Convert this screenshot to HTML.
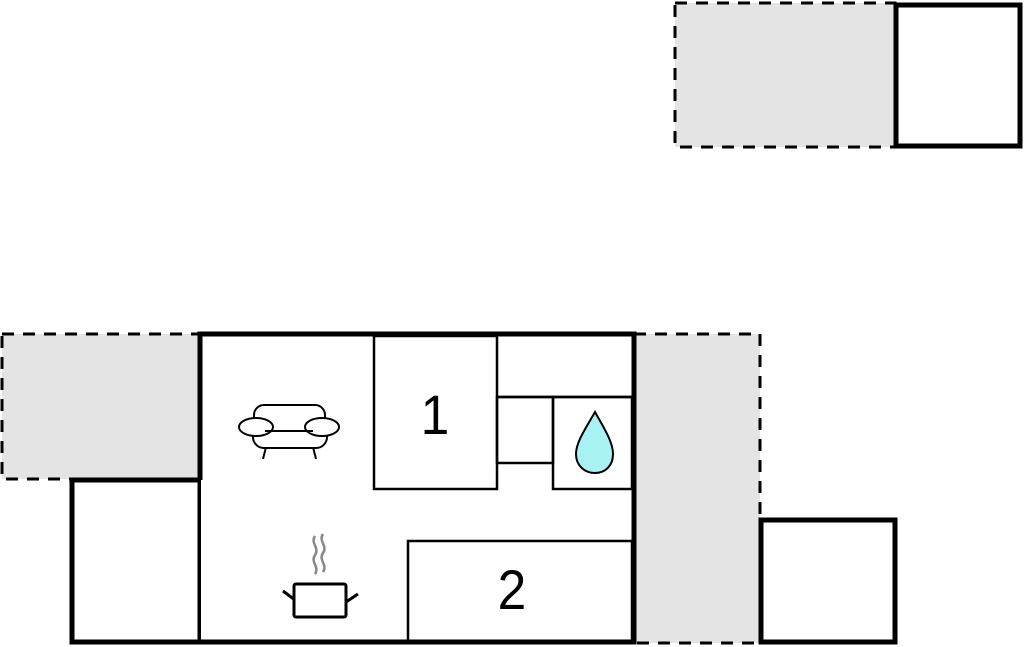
<!DOCTYPE html>
<html><head><style>html,body{margin:0;padding:0;background:#fff;width:1024px;height:647px;overflow:hidden}</style></head>
<body>
<svg width="1024" height="647" viewBox="0 0 1024 647" xmlns="http://www.w3.org/2000/svg">
<rect x="675" y="3" width="220" height="144" fill="#e4e4e4" stroke="#000" stroke-width="3" stroke-dasharray="12,9"/>
<rect x="896" y="5" width="124" height="141" fill="#fff" stroke="#000" stroke-width="5"/>
<rect x="2" y="334" width="198" height="145" fill="#e4e4e4" stroke="#000" stroke-width="3" stroke-dasharray="12,9"/>
<rect x="634" y="334" width="126" height="309" fill="#e4e4e4" stroke="#000" stroke-width="3" stroke-dasharray="12,9"/>
<rect x="72" y="480" width="128" height="162" fill="#fff" stroke="#000" stroke-width="5"/>
<rect x="200" y="334" width="434" height="308" fill="#fff" stroke="none"/>
<polyline points="200,480 200,334 634,334 634,642 200,642" fill="none" stroke="#000" stroke-width="5"/>
<line x1="200" y1="480" x2="200" y2="642" stroke="#000" stroke-width="2"/>
<rect x="761" y="520" width="134" height="122" fill="#fff" stroke="#000" stroke-width="5"/>
<g fill="none" stroke="#000" stroke-width="2.5">
<rect x="374" y="336" width="123" height="153"/>
<line x1="497" y1="397" x2="632" y2="397"/>
<rect x="497" y="397" width="56" height="66"/>
<rect x="553" y="397" width="79" height="92"/>
<rect x="408" y="541" width="224" height="101"/>
</g>
<text x="435" y="434" font-family="Liberation Sans, sans-serif" font-size="56" text-anchor="middle" transform="translate(435 0) scale(0.92 1) translate(-435 0)">1</text>
<text x="512" y="609" font-family="Liberation Sans, sans-serif" font-size="56" text-anchor="middle" transform="translate(512 0) scale(0.92 1) translate(-512 0)">2</text>
<path d="M595,412 C586,428 576,442 576,454 C576,466 585,473 595,473 C605,473 613,466 613,454 C613,442 604,428 595,412 Z" fill="#a8f2f4" stroke="#000" stroke-width="2"/>
<g fill="#fff" stroke="#000" stroke-width="2">
<line x1="266" y1="447" x2="263" y2="459"/><line x1="313" y1="447" x2="316" y2="459"/>
<rect x="253" y="425" width="74" height="23" rx="11"/>
<rect x="254" y="405" width="71" height="26" rx="10"/>
<ellipse cx="256" cy="427" rx="17" ry="9"/>
<ellipse cx="322" cy="427" rx="17" ry="9"/>
<line x1="265" y1="431" x2="313" y2="431"/>
</g>
<g fill="none" stroke="#888" stroke-width="2.5"><path d="M315,536 c-5,7 5,12 0,19 c-5,7 5,12 0,19 M323,534 c-5,7 5,12 0,19 c-5,7 5,12 0,19"/></g>
<g stroke="#000" stroke-width="3" fill="#fff">
<line x1="283" y1="591" x2="295" y2="600"/><line x1="358" y1="594" x2="346" y2="602"/>
<rect x="294" y="584" width="52" height="33" rx="2"/>
</g>
</svg>
</body></html>
